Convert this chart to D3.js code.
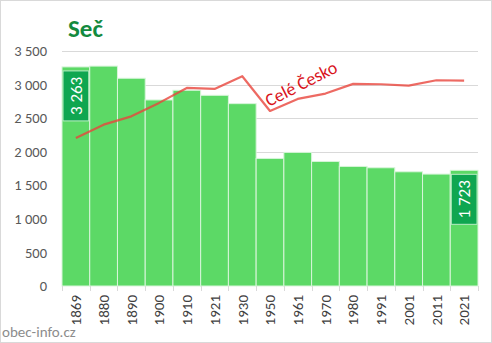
<!DOCTYPE html>
<html>
<head>
<meta charset="utf-8">
<script src="https://cdn.jsdelivr.net/npm/d3@7"></script>
<style>
  html, body { margin: 0; padding: 0; background: #fff; }
  svg { display: block; font-family: Calibri, Carlito, "Liberation Sans", Arial, sans-serif; }
</style>
</head>
<body>
<svg id="chart" width="492" height="343"></svg>
<script>
// Census years of the municipality
const years = ["1869","1880","1890","1900","1910","1921","1930","1950","1961","1970","1980","1991","2001","2011","2021"];
// Population of Seč
const population = [3263, 3275, 3094, 2771, 2915, 2840, 2716, 1900, 1990, 1855, 1781, 1761, 1701, 1667, 1723];
// Whole country trend, rescaled to the municipality
const czechiaScaled = [2204, 2403, 2527, 2727, 2950, 2935, 3124, 2607, 2786, 2866, 3010, 3005, 2985, 3064, 3060];
const yTicks = [0, 500, 1000, 1500, 2000, 2500, 3000, 3500];
const labelled = ["1869", "2021"];

const svg = d3.select("#chart");
const W = 492, H = 343;
const m = { left: 62, right: 14, top: 51, bottom: 57 };
const FONT = "Calibri, Carlito, 'Liberation Sans', Arial, sans-serif";

// chart frame
svg.append("rect").attr("x", 0.5).attr("y", 0.5).attr("width", W - 1).attr("height", H - 1)
  .attr("fill", "#fff").attr("stroke", "#d9d9d9");

const x = d3.scaleBand().domain(years).range([m.left, W - m.right]).padding(0);
const y = d3.scaleLinear().domain([0, 3500]).range([H - m.bottom, m.top]);
const fmt = v => d3.format(",")(v).replace(/,/g, "\u00a0");

// gridlines
svg.append("g").selectAll("line").data(yTicks.slice(1)).join("line")
  .attr("x1", m.left).attr("x2", W - m.right)
  .attr("y1", d => Math.round(y(d)) + 0.5).attr("y2", d => Math.round(y(d)) + 0.5)
  .attr("stroke", "#d9d9d9").attr("stroke-width", 1);

// y axis labels
const yAxis = d3.axisLeft(y).tickValues(yTicks).tickSize(0).tickPadding(15).tickFormat(fmt);
svg.append("g").attr("transform", `translate(${m.left},0)`).call(yAxis)
  .call(g => g.select(".domain").remove())
  .call(g => g.selectAll("text").attr("fill", "#595959").style("font-size", "14.5px")
    .style("font-family", FONT));

// bars
svg.append("g").selectAll("rect").data(years).join("rect")
  .attr("x", d => x(d)).attr("width", x.bandwidth())
  .attr("y", (d, i) => y(population[i]))
  .attr("height", (d, i) => y(0) - y(population[i]))
  .attr("fill", "#5cd966").attr("stroke", "#d8f5da").attr("stroke-width", 1);

// x axis
const xAxis = d3.axisBottom(x).tickSize(0).tickPadding(0);
const gx = svg.append("g").attr("transform", `translate(0,${y(0)})`).call(xAxis);
gx.select(".domain").remove();
gx.selectAll("text")
  .attr("fill", "#404040").style("font-size", "15px")
  .style("font-family", FONT)
  .attr("transform", "rotate(-90)")
  .attr("text-anchor", "end").attr("dy", "0.35em").attr("x", -9).attr("y", 0);
// tick marks at band edges
const edges = years.map(d => x(d)).concat([x(years[years.length - 1]) + x.bandwidth()]);
svg.append("g").selectAll("line").data(edges).join("line")
  .attr("x1", d => Math.round(d) + 0.5).attr("x2", d => Math.round(d) + 0.5)
  .attr("y1", y(0)).attr("y2", y(0) + 5)
  .attr("stroke", "#d9d9d9");

// country line
const line = d3.line().x((d, i) => x(years[i]) + x.bandwidth() / 2).y(d => y(d));
svg.append("path").datum(czechiaScaled).attr("d", line)
  .attr("fill", "none").attr("stroke", "#e8453c").attr("stroke-opacity", 0.8)
  .attr("stroke-width", 2.2).attr("stroke-linejoin", "round");

svg.append("text").text("Celé Česko")
  .attr("transform", "translate(269,107) rotate(-27)")
  .attr("fill", "#d9141b").style("font-size", "18px");

// value labels on first and last bars
labelled.forEach(yr => {
  const i = years.indexOf(yr);
  const bx = x(yr) + 1, bw = x.bandwidth() - 2;
  const top = y(population[i]) + 4;
  const h = 50;
  svg.append("rect").attr("x", bx).attr("y", top).attr("width", bw).attr("height", h)
    .attr("fill", "#0fa650").attr("stroke", "#b9ecc4").attr("stroke-width", 1);
  svg.append("text").text(fmt(population[i]))
    .attr("transform", `translate(${bx + bw / 2},${top + h / 2}) rotate(-90)`)
    .attr("text-anchor", "middle").attr("dy", "0.35em")
    .attr("fill", "#fff").style("font-size", "17px");
});

// title
svg.append("text").text("Seč").attr("x", 68).attr("y", 37)
  .attr("fill", "#138a3e").style("font-size", "25px").style("font-weight", "bold");

// source
svg.append("text").text("obec-info.cz").attr("x", 2).attr("y", 337)
  .attr("fill", "#8c8c8c").style("font-size", "15px");
</script>
</body>
</html>
